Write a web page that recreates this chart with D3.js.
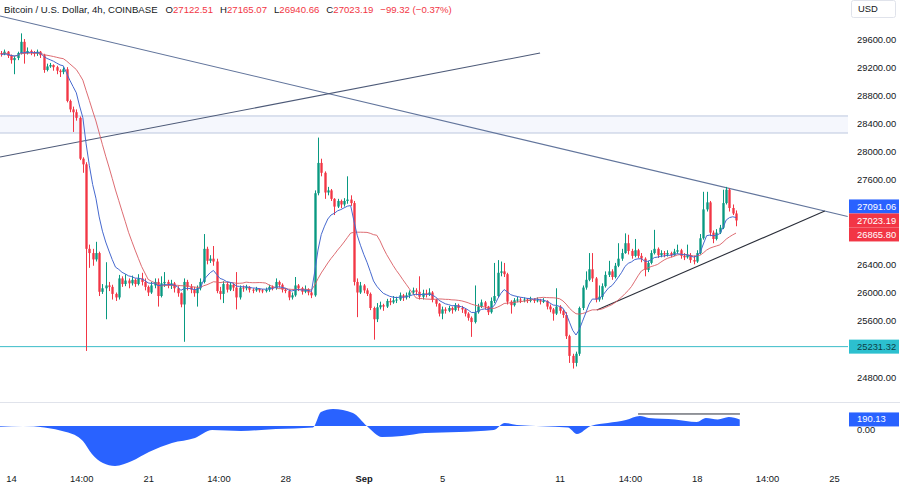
<!DOCTYPE html>
<html>
<head>
<meta charset="utf-8">
<script src="https://cdn.jsdelivr.net/npm/d3@7"></script>
<style>
  body { margin: 0; background: #fff; }
  svg text { font-family: "Liberation Sans", Arial, sans-serif; }
</style>
</head>
<body>
<svg id="chart" width="900" height="488"></svg>
<script>
// BTC/USD 4h candles, first candle = Aug 13 12:00 (day -0.5, days counted from Aug 14 00:00)
var firstDay = -0.5;
var firstOpen = 29400;
// each 4h candle opens at the previous close
var closes = [
  29380,29420,29360,29300,29330,29400,29560,29400,29430,29410,29390,29420,29370,29160,29210,29230,
  29200,29150,29130,29170,28720,28600,28560,28480,27900,27820,26620,26560,26470,26560,26010,26060,
  26100,26080,25980,25930,26200,26120,26170,26130,26180,26120,26200,26150,26080,26000,26100,26150,
  25950,26130,26150,26100,26130,26060,25990,25830,26150,26080,26040,25990,26060,26150,26620,26450,
  26480,26440,26020,25980,26120,26040,26110,26070,25930,26070,26060,26080,26040,26030,26050,26030,
  26020,26040,26080,26060,26150,26110,26040,26020,25930,25960,26100,26060,26010,26040,26000,25960,
  27410,27840,27700,27420,27450,27330,27220,27300,27250,27300,27320,27270,26150,26000,26100,26030,
  25980,25780,25620,25790,25820,25800,25880,25860,25890,25900,25960,25930,25960,26000,26030,26010,
  25940,25990,25970,26000,25900,25840,25700,25760,25740,25780,25750,25820,25780,25760,25700,25640,
  25580,25720,25800,25860,25800,25720,25880,25950,26280,26300,26260,25870,25820,25890,25900,25890,
  25900,25880,25900,25880,25890,25870,25880,25800,25760,25700,25800,25740,25680,25380,25100,25000,
  25130,25780,26070,26180,26330,26200,25900,25940,26090,26250,26300,26220,26380,26480,26560,26700,
  26590,26520,26600,26520,26480,26320,26420,26560,26620,26530,26560,26540,26560,26530,26580,26600,
  26520,26500,26530,26460,26440,26560,26770,27180,27280,26850,26760,26850,26920,27270,27460,27200,
  27122.51,27023.19
];
var highs = [
  29430,29450,29430,29380,29360,29420,29680,29600,29480,29450,29430,29450,29430,29390,29250,29260,
  29240,29220,29170,29200,29200,28740,28640,28600,28500,27920,27850,26680,26620,26720,26580,26120,
  26430,26150,26110,26000,26250,26230,26260,26200,26240,26200,26260,26280,26200,26100,26150,26200,
  26200,26230,26290,26180,26180,26150,26090,26000,26200,26180,26120,26080,26100,26200,26830,26650,
  26530,26660,26480,26080,26160,26150,26140,26130,26290,26100,26100,26110,26090,26060,26080,26060,
  26050,26070,26110,26100,26200,26170,26130,26060,26040,26000,26220,26120,26080,26100,26060,26030,
  27450,28200,27900,27720,27500,27470,27340,27330,27320,27340,27650,27380,27300,26200,26150,26120,
  26060,26000,25800,25850,25870,25840,25910,25920,25950,25940,26000,25980,26000,26030,26070,26060,
  26230,26040,26040,26060,26020,25910,25850,25800,25790,25810,25800,25850,25840,25810,25770,25720,
  25660,26100,25840,25900,25880,25810,25930,26420,26460,26440,26420,26280,25890,25920,25940,25930,
  25930,25920,25940,25920,25930,25910,25920,25890,25830,25780,26060,25820,25760,25720,25400,25130,
  25160,25800,26100,26300,26560,26560,26220,26100,26130,26300,26450,26330,26420,26700,26620,26840,
  26820,26620,26760,26620,26560,26500,26450,26600,26890,26640,26600,26590,26600,26580,26620,26680,
  26620,26560,26680,26560,26520,26600,26830,27430,27430,27300,26880,26900,26960,27460,27500,27480,
  27250,27165.07
];
var lows = [
  29350,29370,29330,29250,29100,29300,29380,29250,29380,29370,29350,29360,29330,29120,29140,29190,
  29150,29100,29060,29100,28700,28560,28280,28440,27880,27700,25170,26350,26380,26440,25950,25980,
  25620,26020,25900,25880,25900,26080,26090,26060,26100,26080,26100,26100,26030,25950,25980,26060,
  25800,25930,26080,26060,26050,26000,25940,25790,25300,26030,25990,25940,25800,26030,26130,26400,
  26420,26380,25990,25900,25850,26000,26020,26020,25760,25900,26010,26030,26000,25990,26010,26000,
  25990,26000,26010,26030,26040,26070,26000,25990,25890,25900,25940,26020,25970,25990,25960,25920,
  25940,27380,27650,27330,27380,27300,27100,27200,27200,27220,27260,27230,26100,25650,25980,25990,
  25950,25750,25330,25580,25760,25740,25780,25820,25840,25850,25880,25880,25900,25920,25980,25960,
  25900,25900,25930,25950,25860,25800,25660,25620,25700,25720,25700,25730,25740,25710,25660,25600,
  25370,25560,25700,25780,25760,25680,25700,25850,25930,26230,26220,25830,25700,25800,25860,25850,
  25860,25850,25860,25850,25860,25830,25850,25760,25720,25600,25680,25700,25640,25340,25000,24920,
  24950,25100,25750,26040,26160,26150,25860,25870,25900,26070,26220,26180,26200,26360,26450,26550,
  26540,26480,26500,26490,26430,26230,26290,26400,26540,26490,26500,26500,26510,26500,26520,26550,
  26480,26460,26480,26420,26400,26420,26540,26750,27150,26800,26700,26740,26830,26900,27250,27150,
  27100,26940.66
];

// price axis and time axis labels
var priceTicks = [29600, 29200, 28800, 28400, 28000, 27600, 27200, 26800, 26400, 26000, 25600, 25200, 24800];
var dayTicks = [0, 3.583, 7, 10.583, 14, 18, 22, 28, 31.583, 35, 38.583, 42];
var dayLabels = ["14", "14:00", "21", "14:00", "28", "Sep", "5", "11", "14:00", "18", "14:00", "25"];

// lower oscillator: [day, value]
var oscDays = [-0.56, 0.61, 2.81, 3.67, 4.13, 4.69, 5.31, 6.17, 7.04, 8.21, 9.39, 10.26, 11.73, 13.52, 15.41,
  15.82, 16.43, 17.45, 18.16, 18.93, 19.95, 21.12, 22.86, 24.64, 25.2, 25.82, 28.42, 28.88, 29.59, 30.46,
  31.38, 32.09, 32.55, 33.88, 35.0, 35.46, 36.07, 36.63, 37.19];
var oscValues = [-20, 0, -175, -438, -818, -1080, -1168, -1022, -759, -496, -350, -117, -146, -88, -44,
  409, 496, 380, 0, -321, -292, -204, -175, -117, 88, 29, -44, -234, 0, 88,
  175, 292, 234, 190, 117, 234, 190, 263, 190.13];

// drawings (day, price)
var descLine = [[-0.56, 29927], [42.7, 27080]];
var ascLine = [[-0.56, 27924], [27.0, 29401]];
var supportLine = [[29.9, 25752], [41.53, 27157]];
var zoneBand = [28265, 28507];
var flashLow = 25231.32;
var oscLevel = [[32.0, 350], [37.2, 350]];

// indicator readouts shown on the scale
var emaLabel = 27091.06, smaLabel = 26865.80, oscLabel = 190.13;

var candles = closes.map(function(c, i) {
  return { day: firstDay + i / 6, o: i === 0 ? firstOpen : closes[i - 1], h: highs[i], l: lows[i], c: c };
});

var svg = d3.select("#chart");
var W = 848;
var x = d3.scaleLinear().domain([0, 42]).range([11, 834]);
var y = d3.scaleLinear().domain([24800, 29600]).range([377, 39]);
var yo = d3.scaleLinear().domain([-1200, 700]).range([467, 402]);

var green = "#089981", red = "#f23645";
var fmt = d3.format(".2f");
var fs = 9.4;

var defs = svg.append("defs");
defs.append("clipPath").attr("id", "mainClip").append("rect").attr("x", 0).attr("y", 0).attr("width", W).attr("height", 402);
defs.append("clipPath").attr("id", "oscClip").append("rect").attr("x", 0).attr("y", 402).attr("width", W).attr("height", 66);

var main = svg.append("g").attr("clip-path", "url(#mainClip)");

// zone band
main.append("rect")
  .attr("x", 0).attr("width", W)
  .attr("y", y(zoneBand[1])).attr("height", y(zoneBand[0]) - y(zoneBand[1]))
  .attr("fill", "#f5f7fd");
zoneBand.forEach(function(v) {
  main.append("line").attr("x1", 0).attr("x2", W).attr("y1", y(v)).attr("y2", y(v))
    .attr("stroke", "#bcc7de").attr("stroke-width", 1);
});

// flash low line
main.append("line").attr("x1", 0).attr("x2", W).attr("y1", y(flashLow)).attr("y2", y(flashLow))
  .attr("stroke", "#3bbcc8").attr("stroke-width", 1);

function seg(g, pts, color, w) {
  g.append("line")
    .attr("x1", x(pts[0][0])).attr("y1", y(pts[0][1]))
    .attr("x2", x(pts[1][0])).attr("y2", y(pts[1][1]))
    .attr("stroke", color).attr("stroke-width", w);
}
seg(main, descLine, "#62759c", 1.1);
seg(main, ascLine, "#4d5a78", 1.1);
seg(main, supportLine, "#2a2e39", 1.1);

// candles
var bw = (x(1 / 6) - x(0)) * 0.72;
var cg = main.append("g");
cg.selectAll("line.wick").data(candles).enter().append("line")
  .attr("x1", function(d) { return Math.round(x(d.day)) + 0.5; })
  .attr("x2", function(d) { return Math.round(x(d.day)) + 0.5; })
  .attr("y1", function(d) { return y(d.h); })
  .attr("y2", function(d) { return y(d.l); })
  .attr("stroke", function(d) { return d.c >= d.o ? green : red; })
  .attr("stroke-width", 1);
cg.selectAll("rect").data(candles).enter().append("rect")
  .attr("x", function(d) { return Math.round(x(d.day)) + 0.5 - bw / 2; })
  .attr("width", bw)
  .attr("y", function(d) { return y(Math.max(d.o, d.c)); })
  .attr("height", function(d) { return Math.max(1, Math.abs(y(d.o) - y(d.c))); })
  .attr("fill", function(d) { return d.c >= d.o ? green : red; });

// moving averages: EMA 9 (blue) and SMA 20 (red)
var k = 2 / 10, ema = [];
closes.forEach(function(c, i) { ema.push(i === 0 ? c : c * k + ema[i - 1] * (1 - k)); });
var sma = closes.map(function(c, i) { return d3.mean(closes.slice(Math.max(0, i - 19), i + 1)); });
var maLine = d3.line().x(function(d, i) { return x(candles[i].day); }).y(function(d) { return y(d); });
main.append("path").attr("d", maLine(sma)).attr("fill", "none").attr("stroke", "#d95c63").attr("stroke-width", 1).attr("opacity", 0.9);
main.append("path").attr("d", maLine(ema)).attr("fill", "none").attr("stroke", "#4669cf").attr("stroke-width", 1);

// oscillator
var osc = svg.append("g").attr("clip-path", "url(#oscClip)");
var oscData = oscDays.map(function(d, i) { return [d, oscValues[i]]; });
osc.append("path")
  .attr("d", d3.area().x(function(d) { return x(d[0]); }).y0(yo(0)).y1(function(d) { return yo(d[1]); }).curve(d3.curveMonotoneX)(oscData))
  .attr("fill", "#2962ff");
osc.append("line")
  .attr("x1", x(oscLevel[0][0])).attr("x2", x(oscLevel[1][0]))
  .attr("y1", yo(oscLevel[0][1])).attr("y2", yo(oscLevel[1][1]))
  .attr("stroke", "#2a2e39").attr("stroke-width", 1);

// pane separator
svg.append("line").attr("x1", 0).attr("x2", 900).attr("y1", 402.5).attr("y2", 402.5).attr("stroke", "#e0e3eb");

// value labels on the price scale (last close fixed, others pushed apart)
var last = candles[candles.length - 1];
var boxes = [
  { v: emaLabel, fill: "#2962ff", tc: "#fff" },
  { v: last.c, fill: red, tc: "#fff" },
  { v: smaLabel, fill: red, tc: "#fff" },
  { v: flashLow, fill: "#2cc0cf", tc: "#0c3f46" }
];
boxes.forEach(function(b) { b.y = y(b.v); });
boxes[0].y = Math.min(boxes[0].y, boxes[1].y - 14);
boxes[2].y = Math.max(boxes[2].y, boxes[1].y + 14);

// price axis
var ya = svg.append("g").attr("transform", "translate(851,0)")
  .call(d3.axisRight(y).tickValues(priceTicks).tickSize(0).tickPadding(6).tickFormat(fmt));
ya.select(".domain").remove();
ya.selectAll("text").attr("font-size", fs).attr("fill", "#131722").attr("font-family", "Liberation Sans, Arial, sans-serif");
ya.selectAll(".tick").filter(function(d) {
  return boxes.some(function(b) { return Math.abs(y(d) - b.y) < 11; });
}).remove();

boxes.forEach(function(b) {
  svg.append("rect").attr("x", 849).attr("y", b.y - 7).attr("width", 50).attr("height", 14).attr("fill", b.fill);
  svg.append("text").attr("x", 857).attr("y", b.y).attr("dy", "0.35em").attr("font-size", fs)
    .attr("fill", b.tc).text(fmt(b.v));
});

// oscillator scale ("0.00" sits just under the value box, as on the reference)
svg.append("text").attr("x", 857).attr("y", yo(0) + 4).attr("dy", "0.35em").attr("font-size", fs).attr("fill", "#131722").text(fmt(0));
svg.append("rect").attr("x", 849).attr("y", yo(oscLabel) - 7).attr("width", 50).attr("height", 14).attr("fill", "#2962ff");
svg.append("text").attr("x", 857).attr("y", yo(oscLabel) - 0.5).attr("dy", "0.35em").attr("font-size", fs).attr("fill", "#fff").text(fmt(oscLabel));

// USD box
svg.append("rect").attr("x", 851.5).attr("y", 0.5).attr("width", 44).attr("height", 17).attr("rx", 2)
  .attr("fill", "#fff").attr("stroke", "#e0e3eb");
svg.append("text").attr("x", 858).attr("y", 9).attr("dy", "0.35em").attr("font-size", fs).attr("fill", "#131722").text("USD");

// time axis
var xa = svg.append("g").attr("transform", "translate(0,471)")
  .call(d3.axisBottom(x).tickValues(dayTicks).tickSize(0).tickPadding(4)
    .tickFormat(function(d, i) { return dayLabels[i]; }));
xa.select(".domain").remove();
xa.selectAll("text").attr("font-size", fs).attr("fill", "#131722").attr("font-family", "Liberation Sans, Arial, sans-serif")
  .attr("font-weight", function(d, i) { return dayLabels[i] === "Sep" ? "bold" : null; });

// header
var chg = last.c - last.o;
var head = svg.append("text").attr("x", 4).attr("y", 13).attr("font-size", 9.6).attr("fill", "#131722");
head.append("tspan").text("Bitcoin / U.S. Dollar, 4h, COINBASE");
[["O", last.o], ["H", last.h], ["L", last.l], ["C", last.c]].forEach(function(p, i) {
  head.append("tspan").attr("dx", i === 0 ? 8 : 7).text(p[0]);
  head.append("tspan").attr("fill", red).text(fmt(p[1]));
});
head.append("tspan").attr("dx", 7).attr("fill", red)
  .text(fmt(chg).replace("-", "\u2212") + " (" + fmt(chg / last.o * 100).replace("-", "\u2212") + "%)");
</script>
</body>
</html>
